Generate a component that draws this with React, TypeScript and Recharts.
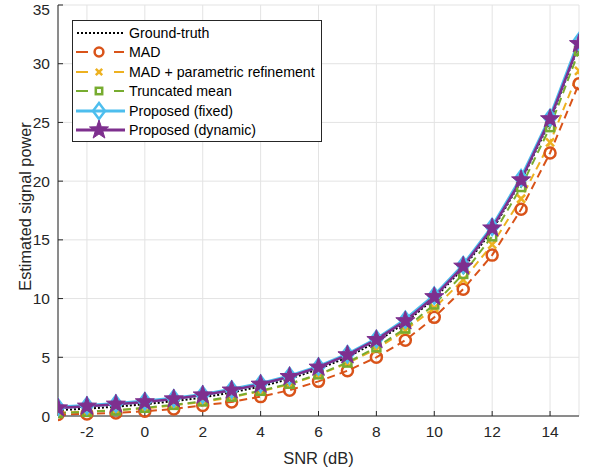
import React from 'react';
import {
  LineChart,
  Line,
  XAxis,
  YAxis,
  CartesianGrid,
  Legend
} from 'recharts';

// SNR values in dB
const snr = [-3, -2, -1, 0, 1, 2, 3, 4, 5, 6, 7, 8, 9, 10, 11, 12, 13, 14, 15];

// estimated signal power
const groundTruth = [0.5, 0.63, 0.79, 1.0, 1.26, 1.58, 2.0, 2.51, 3.16, 3.98, 5.01, 6.31, 7.94, 10.0, 12.6, 15.8, 20.0, 25.1, 31.6];
const mad = [0.12, 0.18, 0.26, 0.4, 0.6, 0.9, 1.2, 1.65, 2.2, 2.95, 3.85, 5.0, 6.45, 8.4, 10.8, 13.7, 17.6, 22.4, 28.3];
const madRefined = [0.28, 0.38, 0.5, 0.65, 0.9, 1.2, 1.6, 2.1, 2.7, 3.5, 4.5, 5.7, 7.3, 9.2, 11.6, 14.6, 18.5, 23.3, 29.4];
const truncatedMean = [0.25, 0.35, 0.48, 0.7, 0.95, 1.25, 1.65, 2.15, 2.75, 3.55, 4.55, 5.85, 7.45, 9.5, 12.1, 15.3, 19.5, 24.6, 31.1];
const proposedFixed = [0.75, 0.88, 1.05, 1.25, 1.5, 1.82, 2.25, 2.75, 3.4, 4.2, 5.25, 6.55, 8.2, 10.25, 12.85, 16.1, 20.25, 25.4, 31.9];
const proposedDynamic = [0.68, 0.83, 1.0, 1.2, 1.45, 1.78, 2.2, 2.7, 3.35, 4.15, 5.2, 6.5, 8.1, 10.15, 12.75, 16.0, 20.1, 25.3, 31.7];

const xTicks = [-2, 0, 2, 4, 6, 8, 10, 12, 14];
const yTicks = [0, 5, 10, 15, 20, 25, 30, 35];

const data = snr.map((s, i) => ({
  snr: s,
  gt: groundTruth[i],
  mad: mad[i],
  madRef: madRefined[i],
  trunc: truncatedMean[i],
  fixed: proposedFixed[i],
  dynamic: proposedDynamic[i]
}));

const FONT = '"Liberation Sans", Arial, Helvetica, sans-serif';
const AXIS = '#262626';

const C = {
  gt: '#000000',
  mad: '#D95319',
  madRef: '#EDB120',
  trunc: '#77AC30',
  fixed: '#4DBEEE',
  dynamic: '#7E2F8E'
};

// marker shapes
const starPath = (cx: number, cy: number, R: number) => {
  const r = R * 0.4;
  let d = '';
  for (let k = 0; k < 10; k++) {
    const rad = k % 2 === 0 ? R : r;
    const a = -Math.PI / 2 + (k * Math.PI) / 5;
    d += (k === 0 ? 'M' : 'L') + (cx + rad * Math.cos(a)).toFixed(2) + ',' + (cy + rad * Math.sin(a)).toFixed(2);
  }
  return d + 'Z';
};

const Marker = ({ kind, cx, cy, s = 1 }: { kind: string; cx: number; cy: number; s?: number }) => {
  if (cx == null || cy == null) return null;
  switch (kind) {
    case 'mad':
      return <circle cx={cx} cy={cy} r={5.5 * s} fill="none" stroke={C.mad} strokeWidth={2.5} />;
    case 'madRef':
      return (
        <g stroke={C.madRef} strokeWidth={2.5}>
          <line x1={cx - 4 * s} y1={cy - 4 * s} x2={cx + 4 * s} y2={cy + 4 * s} />
          <line x1={cx - 4 * s} y1={cy + 4 * s} x2={cx + 4 * s} y2={cy - 4 * s} />
        </g>
      );
    case 'trunc':
      return <rect x={cx - 4 * s} y={cy - 4 * s} width={8 * s} height={8 * s} fill="none" stroke={C.trunc} strokeWidth={2.5} />;
    case 'fixed':
      return (
        <path
          d={`M${cx},${cy - 8 * s}L${cx + 6 * s},${cy}L${cx},${cy + 8 * s}L${cx - 6 * s},${cy}Z`}
          fill="none"
          stroke={C.fixed}
          strokeWidth={2.5}
        />
      );
    case 'dynamic':
      return <path d={starPath(cx, cy, 10 * s)} fill={C.dynamic} stroke={C.dynamic} strokeWidth={1} />;
    default:
      return null;
  }
};

const dotFor = (kind: string) => (props: any) => (
  <Marker key={`${kind}-${props.index}`} kind={kind} cx={props.cx} cy={props.cy} />
);

const legendItems = [
  { key: 'gt', label: 'Ground-truth', dashed: true, width: 2 },
  { key: 'mad', label: 'MAD', dashed: true, width: 2 },
  { key: 'madRef', label: 'MAD + parametric refinement', dashed: true, width: 2 },
  { key: 'trunc', label: 'Truncated mean', dashed: true, width: 2 },
  { key: 'fixed', label: 'Proposed (fixed)', dashed: false, width: 3 },
  { key: 'dynamic', label: 'Proposed (dynamic)', dashed: false, width: 3 }
];

const LegendBox = () => (
  <div
    style={{
      border: `1px solid ${AXIS}`,
      background: '#fff',
      width: 248,
      padding: '2px 0 1px 0',
      fontFamily: FONT,
      fontSize: 14.2,
      color: '#000',
      boxSizing: 'content-box'
    }}
  >
    {legendItems.map((it) => {
      const col = (C as any)[it.key];
      return (
        <div key={it.key} style={{ display: 'flex', alignItems: 'center', height: 19.5 }}>
          <svg width={56} height={20} style={{ flex: 'none' }}>
            {it.key === 'gt' ? (
              <line x1={4} y1={10} x2={50} y2={10} stroke={C.gt} strokeWidth={2} strokeDasharray="2 2" />
            ) : it.dashed ? (
              <>
                <line x1={3} y1={10} x2={15} y2={10} stroke={col} strokeWidth={it.width} />
                <line x1={41} y1={10} x2={51} y2={10} stroke={col} strokeWidth={it.width} />
              </>
            ) : (
              <line x1={3} y1={10} x2={52} y2={10} stroke={col} strokeWidth={it.width} />
            )}
            <Marker kind={it.key} cx={26} cy={10} s={it.key === 'mad' || it.key === 'madRef' || it.key === 'trunc' ? 0.8 : 1} />
          </svg>
          <span style={{ whiteSpace: 'nowrap' }}>{it.label}</span>
        </div>
      );
    })}
  </div>
);

const App: React.FC = () => {
  return (
    <div style={{ position: 'absolute', left: 0, top: 0, background: '#fff' }}>
      <LineChart width={589} height={470} data={data} margin={{ top: 5, right: 10, bottom: 0, left: 0 }}>
        <CartesianGrid stroke="#e3e3e3" strokeWidth={1} />
        <XAxis
          dataKey="snr"
          type="number"
          domain={[-3, 15]}
          ticks={xTicks}
          height={54}
          stroke={AXIS}
          tickSize={-5}
          tickMargin={15}
          tick={{ fontSize: 15.5, fill: AXIS, fontFamily: FONT }}
          allowDataOverflow
          label={(props: any) => {
            const vb = props.viewBox || {};
            const cx = (vb.x || 0) + (vb.width || 0) / 2;
            return (
              <text x={cx} y={458} textAnchor="middle" dominantBaseline="central" fontSize={16.5} fill={AXIS} fontFamily={FONT}>
                SNR (dB)
              </text>
            );
          }}
        />
        <XAxis
          xAxisId="top"
          orientation="top"
          dataKey="snr"
          type="number"
          domain={[-3, 15]}
          ticks={xTicks}
          height={0}
          stroke={AXIS}
          tickSize={-5}
          tickFormatter={() => ''}
        />
        <YAxis
          type="number"
          domain={[0, 35]}
          ticks={yTicks}
          width={58}
          stroke={AXIS}
          tickSize={-5}
          tickMargin={13}
          tick={{ fontSize: 15.5, fill: AXIS, fontFamily: FONT }}
          label={(props: any) => {
            const vb = props.viewBox || {};
            const cy = (vb.y || 0) + (vb.height || 0) / 2 - 4;
            return (
              <text
                x={25}
                y={cy}
                transform={`rotate(-90 25 ${cy})`}
                textAnchor="middle"
                dominantBaseline="central"
                fontSize={16.3}
                fill={AXIS}
                fontFamily={FONT}
              >
                Estimated signal power
              </text>
            );
          }}
        />
        <YAxis
          yAxisId="right"
          orientation="right"
          type="number"
          domain={[0, 35]}
          ticks={yTicks}
          width={0}
          stroke={AXIS}
          tickSize={-5}
          tickFormatter={() => ''}
        />
        <Legend
          layout="vertical"
          align="center"
          verticalAlign="middle"
          content={() => <LegendBox />}
          wrapperStyle={{ left: 72, top: 20, width: 250, height: 'auto' }}
        />
        <Line dataKey="gt" stroke={C.gt} strokeWidth={2} strokeDasharray="2 2" dot={false} isAnimationActive={false} />
        <Line dataKey="mad" stroke={C.mad} strokeWidth={2} strokeDasharray="8 5" dot={dotFor('mad')} isAnimationActive={false} />
        <Line dataKey="madRef" stroke={C.madRef} strokeWidth={2} strokeDasharray="8 5" dot={dotFor('madRef')} isAnimationActive={false} />
        <Line dataKey="trunc" stroke={C.trunc} strokeWidth={2} strokeDasharray="8 5" dot={dotFor('trunc')} isAnimationActive={false} />
        <Line dataKey="fixed" stroke={C.fixed} strokeWidth={3.5} dot={dotFor('fixed')} isAnimationActive={false} />
        <Line dataKey="dynamic" stroke={C.dynamic} strokeWidth={2.5} dot={dotFor('dynamic')} isAnimationActive={false} />
      </LineChart>
    </div>
  );
};

export default App;
